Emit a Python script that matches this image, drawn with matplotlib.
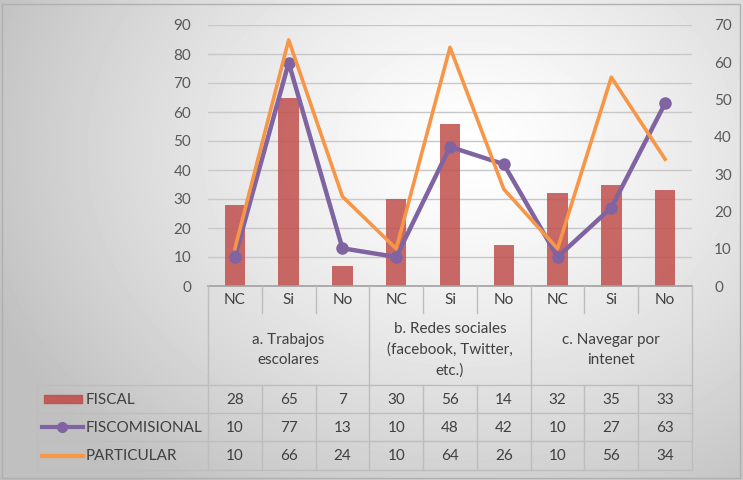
import numpy as np
import matplotlib
matplotlib.use("Agg")
import matplotlib.pyplot as plt

plt.rcParams['font.family'] = ['Lato', 'DejaVu Sans']

subcats = ['NC', 'Si', 'No']
groups = ['a. Trabajos\nescolares', 'b. Redes sociales\n(facebook, Twitter,\netc.)', 'c. Navegar por\nintenet']
series_names = ['FISCAL', 'FISCOMISIONAL', 'PARTICULAR']
fiscal = [28, 65, 7, 30, 56, 14, 32, 35, 33]
fiscomisional = [10, 77, 13, 10, 48, 42, 10, 27, 63]
particular = [10, 66, 24, 10, 64, 26, 10, 56, 34]

c_bar = '#c0504d'
c_purple = '#8064a2'
c_orange = '#f79646'
c_grid = '#c8c8c8'
c_text = '#404040'

W, H = 743, 480
fig = plt.figure(figsize=(W / 100, H / 100), dpi=100)

# background gradient
bg = fig.add_axes([0, 0, 1, 1], zorder=-10)
yy, xx = np.mgrid[0:H, 0:W]
r = np.sqrt(((xx - 470) / 520.0) ** 2 + ((yy - 150) / 420.0) ** 2)
shade = 1.0 - 0.25 * np.clip(r, 0, 1) ** 1.3
bg.imshow(shade, cmap='gray', vmin=0, vmax=1, aspect='auto', extent=[0, W, H, 0])
bg.plot([2, W - 3, W - 3, 2, 2], [4, 4, H - 2, H - 2, 4], color='#b0b0b0', lw=1)
bg.set_xlim(0, W)
bg.set_ylim(H, 0)
bg.axis('off')

# plot area in pixel coordinates
px0, px1, py0, py1 = 208, 692, 25, 286
ax = fig.add_axes([px0 / W, 1 - py1 / H, (px1 - px0) / W, (py1 - py0) / H])
ax.patch.set_alpha(0)
n = len(fiscal)
x = np.arange(n)
ax.set_xlim(-0.5, n - 0.5)
ax.set_ylim(0, 90)
ax.set_yticks(range(0, 91, 10))
ax.yaxis.grid(True, color=c_grid, lw=1)
ax.set_axisbelow(True)
for s in ['top', 'right', 'left']:
    ax.spines[s].set_visible(False)
ax.spines['bottom'].set_color('#a0a0a0')
ax.spines['bottom'].set_linewidth(1.2)
ax.set_xticks([])
ax.tick_params(axis='y', length=0, labelsize=11, labelcolor='#595959', pad=12)

ax.bar(x, fiscal, width=0.38, color=c_bar, alpha=0.85, zorder=2)
ax.plot(x, fiscomisional, color=c_purple, lw=3.2, marker='o', ms=8, zorder=4)

ax2 = ax.twinx()
ax2.set_xlim(-0.5, n - 0.5)
ax2.set_ylim(0, 70)
ax2.set_yticks(range(0, 71, 10))
for s in ['top', 'right', 'left', 'bottom']:
    ax2.spines[s].set_visible(False)
ax2.tick_params(axis='y', length=0, labelsize=11, labelcolor='#595959', pad=16)
ax2.plot(x, particular, color=c_orange, lw=2.6, zorder=3)

# data table overlay in pixel coordinates
tb = fig.add_axes([0, 0, 1, 1], zorder=5)
tb.set_xlim(0, W)
tb.set_ylim(H, 0)
tb.axis('off')
tb.patch.set_alpha(0)
cw = (px1 - px0) / n
lx0 = 37
y_sub, y_grp, rows = 313, 385, [385, 413, 441, 470]
lc = '#bdbdbd'
# horizontal lines
for yv in rows:
    tb.plot([lx0, px1], [yv, yv], color=lc, lw=1)
# table outline verticals
tb.plot([px0, px0], [py1, rows[-1]], color=lc, lw=1)
tb.plot([px1, px1], [py1, rows[-1]], color=lc, lw=1)
tb.plot([lx0, lx0], [rows[0], rows[-1]], color=lc, lw=1)
for i in range(1, n):
    xv = px0 + i * cw
    if i % 3 == 0:
        tb.plot([xv, xv], [py1, rows[-1]], color=lc, lw=1)
    else:
        tb.plot([xv, xv], [py1, y_sub], color=lc, lw=1)
        tb.plot([xv, xv], [rows[0], rows[-1]], color=lc, lw=1)
# sub-category labels
for i in range(n):
    tb.text(px0 + (i + 0.5) * cw, (py1 + y_sub) / 2 + 1, subcats[i % 3],
            ha='center', va='center', fontsize=11, color=c_text)
for g, lab in enumerate(groups):
    tb.text(px0 + (3 * g + 1.5) * cw, (y_sub + y_grp) / 2 + 1, lab,
            ha='center', va='center', fontsize=11, color=c_text, linespacing=1.6)
# value rows
for r_i, vals in enumerate([fiscal, fiscomisional, particular]):
    yc = (rows[r_i] + rows[r_i + 1]) / 2 + 1
    for i, v in enumerate(vals):
        tb.text(px0 + (i + 0.5) * cw, yc, str(v), ha='center', va='center',
                fontsize=11, color=c_text)
    tb.text(86, yc, series_names[r_i], ha='left', va='center', fontsize=11, color=c_text)
# legend keys
yk = [(rows[k] + rows[k + 1]) / 2 for k in range(3)]
tb.add_patch(plt.Rectangle((44, yk[0] - 4), 38, 8, color=c_bar, alpha=0.9))
tb.plot([42, 83], [yk[1], yk[1]], color=c_purple, lw=3)
tb.plot([62], [yk[1]], marker='o', ms=7, color=c_purple)
tb.plot([42, 83], [yk[2], yk[2]], color=c_orange, lw=3)

fig.savefig('out.png', dpi=100)
